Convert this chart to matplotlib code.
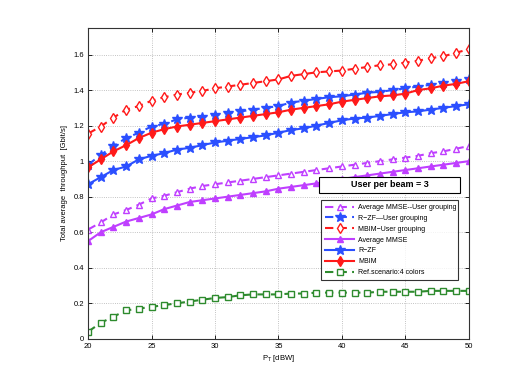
import numpy as np
import matplotlib
matplotlib.use("Agg")
import matplotlib.pyplot as plt
from matplotlib.patches import Rectangle

# Data
pt_dbw = list(range(20, 51))

mmse_ug = [0.615, 0.655, 0.70, 0.725, 0.755, 0.79, 0.805, 0.825, 0.845, 0.86, 0.87,
           0.88, 0.89, 0.90, 0.91, 0.92, 0.93, 0.94, 0.95, 0.96, 0.97,
           0.98, 0.99, 1.0, 1.01, 1.02, 1.03, 1.045, 1.055, 1.07, 1.085]
rzf_ug = [0.98, 1.035, 1.085, 1.13, 1.16, 1.195, 1.21, 1.235, 1.245, 1.25, 1.26,
          1.27, 1.28, 1.29, 1.30, 1.31, 1.33, 1.34, 1.35, 1.36, 1.365,
          1.375, 1.385, 1.39, 1.40, 1.41, 1.42, 1.43, 1.44, 1.45, 1.46]
mbim_ug = [1.155, 1.195, 1.245, 1.29, 1.31, 1.34, 1.36, 1.375, 1.385, 1.395, 1.41,
           1.42, 1.43, 1.44, 1.45, 1.46, 1.48, 1.49, 1.50, 1.505, 1.51,
           1.52, 1.53, 1.54, 1.545, 1.555, 1.565, 1.58, 1.59, 1.61, 1.63]
mmse = [0.55, 0.60, 0.63, 0.66, 0.68, 0.70, 0.73, 0.75, 0.77, 0.78, 0.79,
        0.80, 0.81, 0.82, 0.83, 0.845, 0.855, 0.865, 0.875, 0.89, 0.90,
        0.91, 0.92, 0.93, 0.94, 0.95, 0.96, 0.97, 0.98, 0.99, 1.0]
rzf = [0.87, 0.91, 0.95, 0.97, 1.01, 1.03, 1.045, 1.065, 1.075, 1.09, 1.105,
       1.115, 1.125, 1.135, 1.145, 1.16, 1.175, 1.185, 1.20, 1.215, 1.23,
       1.24, 1.245, 1.255, 1.265, 1.275, 1.28, 1.29, 1.30, 1.31, 1.32]
mbim = [0.965, 1.01, 1.055, 1.09, 1.13, 1.16, 1.18, 1.195, 1.205, 1.215, 1.225,
        1.235, 1.245, 1.255, 1.265, 1.275, 1.29, 1.30, 1.31, 1.32, 1.335,
        1.345, 1.355, 1.365, 1.37, 1.38, 1.40, 1.41, 1.425, 1.435, 1.45]
ref = [0.04, 0.09, 0.125, 0.16, 0.17, 0.18, 0.19, 0.20, 0.21, 0.22, 0.23,
       0.235, 0.245, 0.25, 0.25, 0.25, 0.255, 0.255, 0.26, 0.26, 0.26,
       0.26, 0.26, 0.265, 0.265, 0.265, 0.265, 0.27, 0.27, 0.27, 0.27]

purple = "#bf3fff"
blue = "#2b4fff"
red = "#ff1a1a"
green = "#2e8b2e"

plt.rcParams['font.family'] = ['Liberation Sans', 'DejaVu Sans']

fig = plt.figure(figsize=(5.18, 3.82), dpi=100)
ax = fig.add_axes([0.17, 0.113, 0.735, 0.814])

series = [
    (mmse_ug, purple, '--', '^', 'white', "Average MMSE--User grouping"),
    (rzf_ug, blue, '--', '*', blue, "R\u2212ZF\u2014User grouping"),
    (mbim_ug, red, '--', 'd', 'white', "MBIM\u2212User grouping"),
    (mmse, purple, '-', '^', purple, "Average MMSE"),
    (rzf, blue, '-', '*', blue, "R\u2212ZF"),
    (mbim, red, '-', 'd', red, "MBIM"),
    (ref, green, '--', 's', 'white', "Ref.scenario:4 colors"),
]

for y, c, ls, mk, mfc, lab in series:
    ms = 7 if mk == '*' else 5
    if mk == 's':
        ms = 4
    ax.plot(pt_dbw, y, color=c, linestyle=ls, linewidth=1.5, marker=mk,
            markersize=ms, markerfacecolor=mfc, markeredgecolor=c,
            markeredgewidth=1.0, label=lab, dashes=(4, 2.5) if ls == '--' else (None, None))

ax.set_xlim(20, 50)
ax.set_ylim(0, 1.75)
ax.set_xticks(range(20, 51, 5))
ax.set_yticks([0, 0.2, 0.4, 0.6, 0.8, 1.0, 1.2, 1.4, 1.6])
ax.set_yticklabels(["0", "0.2", "0.4", "0.6", "0.8", "1", "1.2", "1.4", "1.6"])
ax.tick_params(direction='in', labelsize=5.5, length=3, width=0.6,
               top=True, right=True, pad=3)
ax.grid(True, linestyle=':', color='#b0b0b0', linewidth=0.6)
for s in ax.spines.values():
    s.set_linewidth(0.8)
    s.set_color('#333333')

ax.set_xlabel("P$_\\mathregular{T}$ [dBW]", fontsize=5.5, labelpad=2)
ax.set_ylabel("Total average  throughput  [Gbit/s]", fontsize=5.5, labelpad=4)

leg = ax.legend(loc='upper left', bbox_to_anchor=(0.603, 0.458), fontsize=5,
                frameon=True, fancybox=False, edgecolor='black',
                handlelength=4.2, borderpad=0.6, labelspacing=0.55,
                handletextpad=0.5, mode='expand')
leg.set_bbox_to_anchor((0.603, 0.185, 0.377, 0.273), transform=ax.transAxes)
leg.get_frame().set_linewidth(0.8)

# annotation box above the legend
ax.add_patch(Rectangle((0.606, 0.47), 0.372, 0.052, transform=ax.transAxes,
                       facecolor='white', edgecolor='black', linewidth=0.8,
                       zorder=5))
ax.text(0.792, 0.496, "User per beam = 3", transform=ax.transAxes,
        fontsize=6.5, fontweight='bold', ha='center', va='center', zorder=6)

fig.savefig("out.png", dpi=100)
